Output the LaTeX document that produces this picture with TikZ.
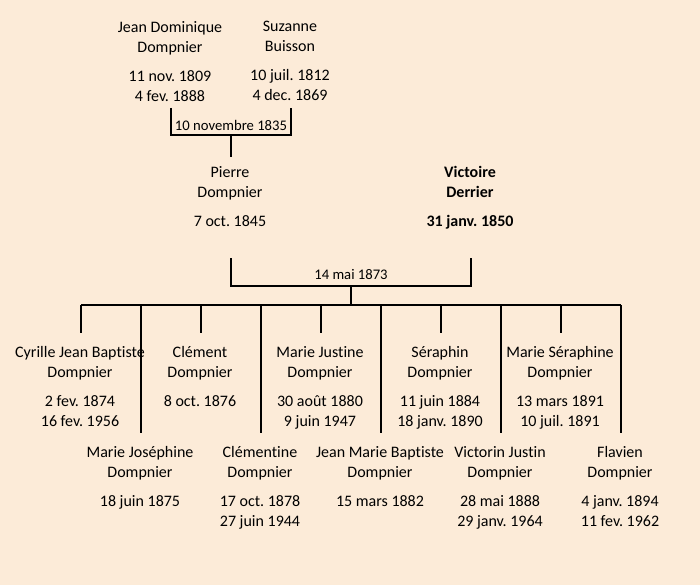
\documentclass[tikz,border=0pt]{standalone}
\usepackage{fontspec}
\setmainfont{Carlito}[Ligatures=NoCommon]
\frenchspacing
\definecolor{parchment}{RGB}{252,235,216}
\tikzset{
    person/.style={align=center, anchor=north, inner sep=0pt,
        font=\fontsize{12}{15}\selectfont},
    wedding/.style={inner sep=0pt, font=\fontsize{11}{15}\selectfont},
    link/.style={line width=1.5pt},
}
\begin{document}
\begin{tikzpicture}[x=0.75pt,y=-0.75pt]
        % Page and background
        \fill[parchment] (0,0) rectangle (700,585);
        \useasboundingbox (0,0) rectangle (700,585);
        % The grandparents
        \node[person] (jean) at (170,21) {Jean Dominique\\Dompnier\\[6.8pt]11 nov. 1809\\4 fev. 1888};
        \node[person] (suzanne) at (290,21) {Suzanne\\Buisson\\[6.8pt]10 juil. 1812\\4 dec. 1869};
        % Their wedding
        \coordinate (jean-b) at (171,108);
        \coordinate (suzanne-b) at (291,108);
        \coordinate (wed1-b) at (231,135);
        \coordinate (pierre-t) at (231,157);
        \draw[link] (jean-b) |- (wed1-b) -| (suzanne-b);
        \draw[link] (wed1-b) -- (pierre-t);
        \node[wedding] (wed1) at (231,125) {10 novembre 1835};
        % The parents
        \node[person] (pierre) at (230,166) {Pierre\\Dompnier\\[6.8pt]7 oct. 1845};
        \node[person, font=\fontsize{12}{15}\selectfont\bfseries] (victoire) at (470,166)
            {Victoire\\Derrier\\[6.8pt]31 janv. 1850};
        % Their wedding
        \coordinate (pierre-b) at (231,258);
        \coordinate (victoire-b) at (471,258);
        \coordinate (wed2-b) at (351,286);
        \draw[link] (pierre-b) |- (wed2-b) -| (victoire-b);
        \node[wedding] (wed2) at (351,275) {14 mai 1873};
        % The children, first row
        \node[person] (cyrille) at (80,346) {Cyrille Jean Baptiste\\Dompnier\\[6.8pt]2 fev. 1874\\16 fev. 1956};
        \node[person] (clement) at (200,346) {Clément\\Dompnier\\[6.8pt]8 oct. 1876};
        \node[person] (justine) at (320,346) {Marie Justine\\Dompnier\\[6.8pt]30 août 1880\\9 juin 1947};
        \node[person] (seraphin) at (440,346) {Séraphin\\Dompnier\\[6.8pt]11 juin 1884\\18 janv. 1890};
        \node[person] (mseraphine) at (560,346) {Marie Séraphine\\Dompnier\\[6.8pt]13 mars 1891\\10 juil. 1891};
        % The children, second row
        \node[person] (josephine) at (140,446) {Marie Joséphine\\Dompnier\\[6.8pt]18 juin 1875};
        \node[person] (clementine) at (260,446) {Clémentine\\Dompnier\\[6.8pt]17 oct. 1878\\27 juin 1944};
        \node[person] (jmbaptiste) at (380,446) {Jean Marie Baptiste\\Dompnier\\[6.8pt]15 mars 1882};
        \node[person] (victorin) at (500,446) {Victorin Justin\\Dompnier\\[6.8pt]28 mai 1888\\29 janv. 1964};
        \node[person] (flavien) at (620,446) {Flavien\\Dompnier\\[6.8pt]4 janv. 1894\\11 fev. 1962};
        % The bar over the children
        \coordinate (bar-l) at (81,305);
        \coordinate (bar-r) at (621,305);
        \coordinate (short-end) at (0,333);
        \coordinate (long-end) at (0,433);
        \draw[link] (bar-l) -- (bar-r);
        \draw[link] (wed2-b) -- (wed2-b |- bar-l);
        \foreach \kid in {cyrille,clement,justine,seraphin,mseraphine}
            \draw[link] ([xshift=0.75pt]\kid.north |- bar-l) -- ([xshift=0.75pt]\kid.north |- short-end);
        \foreach \kid in {josephine,clementine,jmbaptiste,victorin,flavien}
            \draw[link] ([xshift=0.75pt]\kid.north |- bar-l) -- ([xshift=0.75pt]\kid.north |- long-end);
    \end{tikzpicture}
\end{document}
